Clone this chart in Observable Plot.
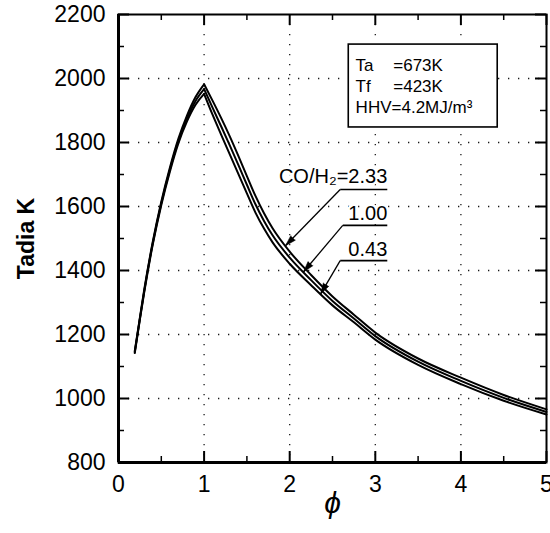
<!DOCTYPE html>
<html><head><meta charset="utf-8">
<script src="https://cdn.jsdelivr.net/npm/d3@7"></script>
<script src="https://cdn.jsdelivr.net/npm/@observablehq/plot@0.6"></script>
<style>body{margin:0;background:#fff;}</style>
</head><body><div id="chart"></div>
<script>
// ---- data ----
const phi   = [0.19,0.25,0.3,0.4,0.5,0.6,0.7,0.8,0.9,1.0,1.1,1.2,1.3,1.4,1.5,1.6,1.7,1.8,2.0,2.25,2.5,2.75,3.0,3.5,4.0,4.5,5.0];
const T_233 = [1148,1253,1339,1489,1615,1721,1812,1884,1942,1982,1930,1876,1819,1758,1695,1633,1579,1532,1459,1386,1319,1262,1206,1125,1065,1011,966];
const T_100 = [1145,1250,1335,1485,1610,1715,1805,1875,1930,1967,1908,1850,1791,1730,1668,1607,1555,1510,1440,1370,1305,1250,1195,1115,1055,1002,958];
const T_043 = [1142,1247,1331,1481,1605,1709,1798,1866,1918,1952,1886,1824,1763,1702,1641,1581,1531,1488,1421,1354,1291,1238,1184,1105,1045,993,950];
const seriesNames = ["2.33","1.00","0.43"];

const xTicks = [0,1,2,3,4,5];
const xMinor = [0.5,1.5,2.5,3.5,4.5];
const yTicks = [800,1000,1200,1400,1600,1800,2000,2200];
const yMinor = [900,1100,1300,1500,1700,1900,2100];
const xGrid = [1,2,3,4];
const yGrid = [1000,1200,1400,1600,1800,2000];

// annotation labels
const labelText  = ["CO/H\u2082=2.33","1.00","0.43"];
const labelT     = [1694,1578,1466];
const lineT      = [1653,1541,1431];
const lineStart  = [2.59,2.62,2.59];
const lineEnd    = 3.14;
const tipPhi     = [1.95,2.16,2.36];

// condition box
const boxNames  = ["Ta","Tf","HHV"];
const boxValues = ["=673K","=423K","=4.2MJ/m\u00B3"];
const boxRowT   = [2041,1975,1909];
const boxValPhi = [3.21,3.21,3.19];
const boxNamePhi = 2.77;
const boxRange  = {x1:2.69, x2:4.43, y1:1847, y2:2106};

// ---- layout ----
const W = 550, H = 533, ML = 118, MR = 4, MT = 14, MB = 71;
const PW = W-ML-MR, PH = H-MT-MB;
const xDomain = [0,5], yDomain = [800,2200];
const txtFont = "'Liberation Sans', Arial, sans-serif";

const sx = Plot.scale({x:{type:"linear", domain:xDomain, range:[ML, W-MR]}});
const sy = Plot.scale({y:{type:"linear", domain:yDomain, range:[H-MB, MT]}});

const rows = [];
[T_233,T_100,T_043].forEach((arr,k) => phi.forEach((p,i) => {
  if (p <= 1) rows.push({s:seriesNames[k], z:seriesNames[k]+"L", phi:p, T:arr[i]});
  if (p >= 1) rows.push({s:seriesNames[k], z:seriesNames[k]+"R", phi:p, T:arr[i]});
}));

const series = [T_233,T_100,T_043];
const ann = seriesNames.map((s,k) => {
  const interp = d3.scaleLinear().domain(phi).range(series[k]);
  const tp = tipPhi[k], tT = interp(tp);
  const dx = sx.apply(tp) - sx.apply(lineStart[k]);
  const dy = sy.apply(tT) - sy.apply(lineT[k]);
  return {text:labelText[k], lt:labelT[k], ly:lineT[k], x1:lineStart[k], x2:lineEnd,
          tp, tT, rot: Math.atan2(dx, -dy)*180/Math.PI};
});

const boxRows = boxNames.map((n,i) => ({n, v:boxValues[i], T:boxRowT[i], vx:boxValPhi[i]}));

const chart = Plot.plot({
  width: W, height: H,
  marginLeft: ML, marginRight: MR, marginTop: MT, marginBottom: MB,
  x: {domain: xDomain, axis: null},
  y: {domain: yDomain, axis: null},
  style: {fontFamily: txtFont, background: "white", color: "black", overflow: "visible"},
  marks: [
    Plot.gridX(xGrid, {stroke:"black", strokeOpacity:0.9, strokeWidth:1.3, strokeDasharray:"1.3,8.7"}),
    Plot.gridY(yGrid, {stroke:"black", strokeOpacity:0.9, strokeWidth:1.3, strokeDasharray:"1.3,8.7"}),
    // inward ticks, all four sides
    Plot.tickY(yTicks, {y:d=>d, insetRight: PW-11, strokeWidth:2}),
    Plot.tickY(yMinor, {y:d=>d, insetRight: PW-6, strokeWidth:1.5}),
    Plot.tickY(yTicks, {y:d=>d, insetLeft: PW-11, strokeWidth:2}),
    Plot.tickY(yMinor, {y:d=>d, insetLeft: PW-6, strokeWidth:1.5}),
    Plot.tickX(xTicks, {x:d=>d, insetTop: PH-11, strokeWidth:2}),
    Plot.tickX(xMinor, {x:d=>d, insetTop: PH-6, strokeWidth:1.5}),
    Plot.tickX(xTicks, {x:d=>d, insetBottom: PH-11, strokeWidth:2}),
    Plot.tickX(xMinor, {x:d=>d, insetBottom: PH-6, strokeWidth:1.5}),
    // curves
    Plot.line(rows, {x:"phi", y:"T", z:"z", stroke:"black", strokeWidth:2, curve:"monotone-x"}),
    // annotations
    Plot.link(ann, {x1:"x1", y1:"ly", x2:"tp", y2:"tT", stroke:"black", strokeWidth:1.3}),
    Plot.link(ann, {x1:"x1", y1:"ly", x2:"x2", y2:"ly", stroke:"black", strokeWidth:1.6}),
    Plot.vector(ann, {x:"tp", y:"tT", rotate:"rot", length:11, r:3.2, anchor:"end", shape:"spike", fill:"black", stroke:"black", strokeWidth:0.5}),
    Plot.text(ann, {x:"x2", y:"lt", text:"text", textAnchor:"end", fontSize:20, fill:"black", stroke:"white", strokeWidth:5, fontFamily:txtFont}),
    // condition box
    Plot.rect([boxRange], {x1:"x1", x2:"x2", y1:"y1", y2:"y2", fill:"white", stroke:"black", strokeWidth:1.6}),
    Plot.text(boxRows, {x:boxNamePhi, y:"T", text:"n", textAnchor:"start", fontSize:17, fontFamily:txtFont}),
    Plot.text(boxRows, {x:"vx", y:"T", text:"v", textAnchor:"start", fontSize:17, fontFamily:txtFont}),
    // frame
    Plot.frame({stroke:"black", strokeWidth:2}),
    Plot.ruleX([0], {stroke:"black", strokeWidth:3}),
    Plot.ruleY([800], {stroke:"black", strokeWidth:3}),
    // axes labels
    Plot.axisY(yTicks, {tickSize:0, tickPadding:13, fontSize:23, fontFamily:txtFont, tickFormat:d=>String(d), label:null}),
    Plot.axisX(xTicks, {tickSize:0, tickPadding:13, fontSize:23, fontFamily:txtFont, tickFormat:d=>String(d), label:null}),
    Plot.text(["Tadia K"], {frameAnchor:"left", dx:-92, rotate:-90, textAnchor:"middle", fontSize:23, fontWeight:"bold", fontFamily:txtFont, text:d=>d}),
    Plot.text(["\u03D5"], {frameAnchor:"bottom", dy:50, fontSize:30, fontStyle:"italic", fontFamily:txtFont, text:d=>d})
  ]
});
document.getElementById("chart").appendChild(chart);
</script>
</body></html>
